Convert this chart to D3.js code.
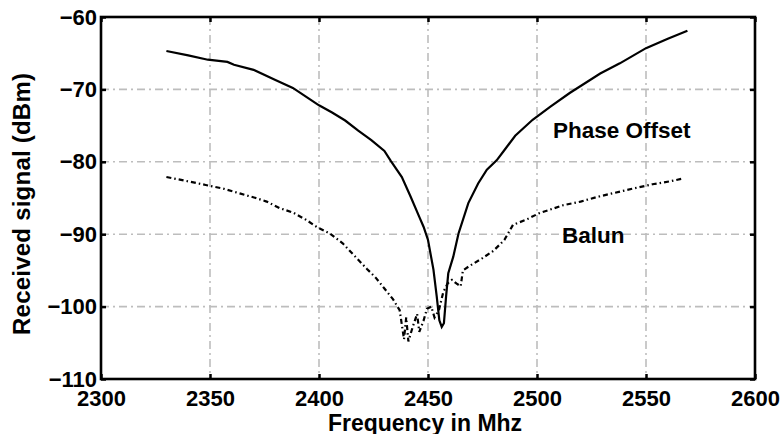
<!DOCTYPE html>
<html lang="en">
<head>
    <meta charset="UTF-8">
    <title>Received signal vs frequency</title>
    <style>
        body { margin: 0; background: #fff; }
        svg { display: block; font-family: "Liberation Sans", Arial, sans-serif; font-weight: bold; }
    </style>
</head>
<body>
    <div class="box"></div>
    <script src="https://d3js.org/d3.v7.min.js"></script>
    <script>
        // 数据
        const xTicks = [2300, 2350, 2400, 2450, 2500, 2550, 2600];
        const yTicks = [-110, -100, -90, -80, -70, -60];

        const phaseFreq = [2330, 2340, 2349, 2358, 2361, 2370, 2380, 2388, 2394, 2400, 2406, 2412, 2418, 2424, 2430, 2433, 2438, 2442, 2446, 2448, 2450, 2452.5, 2454, 2455.2, 2456.3, 2457.3, 2458.3, 2459.3, 2461.6, 2464, 2468.5, 2473, 2477, 2481.5, 2485, 2490, 2498, 2506, 2515, 2529, 2538, 2550, 2560, 2569];
        const phaseValues = [-64.7, -65.3, -65.9, -66.2, -66.6, -67.3, -68.7, -69.8, -71.0, -72.2, -73.2, -74.3, -75.7, -77.0, -78.5, -79.9, -82.1, -84.8, -87.6, -89.0, -90.8, -94.9, -98.6, -101.9, -102.8, -102.3, -98.6, -95.4, -93.1, -89.9, -85.7, -83.0, -81.1, -79.8, -78.4, -76.4, -74.2, -72.4, -70.5, -67.8, -66.4, -64.3, -63.0, -61.9];

        const balunFreq = [2330, 2340, 2348, 2356, 2364, 2371, 2376, 2382, 2388, 2394, 2399, 2405, 2411, 2416, 2422, 2426, 2430, 2434, 2437, 2439, 2440, 2441, 2443, 2445, 2446, 2448, 2449.5, 2451.5, 2453, 2455, 2457, 2459, 2461, 2463, 2465, 2466, 2469, 2475, 2480, 2485, 2489, 2495, 2501, 2507, 2512, 2520, 2527, 2534, 2544, 2553, 2561, 2567];
        const balunValues = [-82.1, -82.7, -83.2, -83.7, -84.4, -85.0, -85.5, -86.4, -87.0, -88.0, -89.0, -89.9, -91.3, -92.9, -94.8, -96.0, -97.5, -99.0, -100.5, -104.5, -101.5, -104.8, -102.8, -101.0, -103.5, -101.9, -100.3, -100.0, -101.5, -100.5, -98.0, -96.8, -96.3, -96.8, -97.2, -95.0, -94.4, -93.3, -92.3, -90.8, -88.7, -88.0, -87.1, -86.5, -86.0, -85.5, -84.9, -84.4, -83.7, -83.1, -82.7, -82.3];

        const width = 782, height = 434;
        const margin = { top: 17, right: 27, bottom: 55, left: 101 };
        const innerWidth = width - margin.left - margin.right;
        const innerHeight = height - margin.top - margin.bottom;

        const svg = d3.select('.box').append('svg').attr('width', width).attr('height', height);
        const g = svg.append('g').attr('transform', `translate(${margin.left}, ${margin.top})`);

        const xScale = d3.scaleLinear().domain([2300, 2600]).range([0, innerWidth]);
        const yScale = d3.scaleLinear().domain([-110, -60]).range([innerHeight, 0]);

        // 网格线
        const gridDash = '8,4,2,4';
        g.append('g').selectAll('line').data(xTicks.slice(1, -1)).join('line')
            .attr('x1', d => xScale(d)).attr('x2', d => xScale(d))
            .attr('y1', 0).attr('y2', innerHeight)
            .attr('stroke', '#bdbdbd').attr('stroke-width', 1.6).attr('stroke-dasharray', gridDash);
        g.append('g').selectAll('line').data(yTicks.slice(1, -1)).join('line')
            .attr('y1', d => yScale(d)).attr('y2', d => yScale(d))
            .attr('x1', 0).attr('x2', innerWidth)
            .attr('stroke', '#bdbdbd').attr('stroke-width', 1.6).attr('stroke-dasharray', gridDash);

        // 曲线
        const line = d3.line().x(d => xScale(d[0])).y(d => yScale(d[1]));
        g.append('path').datum(d3.zip(phaseFreq, phaseValues))
            .attr('d', line).attr('fill', 'none').attr('stroke', '#000').attr('stroke-width', 2.2);
        g.append('path').datum(d3.zip(balunFreq, balunValues))
            .attr('d', line).attr('fill', 'none').attr('stroke', '#000').attr('stroke-width', 2.2)
            .attr('stroke-dasharray', '5,3,1.5,3');

        // 坐标轴
        const fmt = d3.format('d');
        const xAxis = d3.axisBottom(xScale).tickValues(xTicks).tickFormat(fmt).tickSizeInner(-5).tickSizeOuter(0).tickPadding(11);
        const yAxis = d3.axisLeft(yScale).tickValues(yTicks).tickFormat(d => '\u2212' + Math.abs(d)).tickSizeInner(-5).tickSizeOuter(0).tickPadding(4);
        const xTop = d3.axisTop(xScale).tickValues(xTicks).tickSizeInner(-5).tickSizeOuter(0);
        const yRight = d3.axisRight(yScale).tickValues(yTicks).tickSizeInner(-5).tickSizeOuter(0);

        g.append('g').attr('transform', `translate(0, ${innerHeight})`).call(xAxis);
        g.append('g').call(yAxis);
        g.append('g').classed('no-label', true).call(xTop);
        g.append('g').classed('no-label', true).attr('transform', `translate(${innerWidth}, 0)`).call(yRight);

        g.selectAll('.no-label .tick text').remove();
        g.selectAll('.domain').remove();
        g.selectAll('.tick line').attr('stroke', '#000').attr('stroke-width', 2.5);
        g.selectAll('.tick text').attr('font-size', 22).attr('fill', '#000');
        g.selectAll('g').attr('font-family', null);

        // 边框
        g.append('rect').attr('width', innerWidth).attr('height', innerHeight)
            .attr('fill', 'none').attr('stroke', '#000').attr('stroke-width', 2.6);

        // 文本
        svg.append('text').text('Frequency in Mhz')
            .attr('x', 425).attr('y', 431).attr('text-anchor', 'middle').attr('font-size', 23);
        svg.append('text').text('Received signal (dBm)')
            .attr('text-anchor', 'middle').attr('font-size', 24)
            .attr('textLength', 262).attr('lengthAdjust', 'spacing')
            .attr('transform', 'translate(30, 204) rotate(-90)');
        svg.append('text').text('Phase Offset').attr('x', 553).attr('y', 138).attr('font-size', 22.5);
        svg.append('text').text('Balun').attr('x', 562).attr('y', 243).attr('font-size', 22.5);
    </script>
</body>
</html>
